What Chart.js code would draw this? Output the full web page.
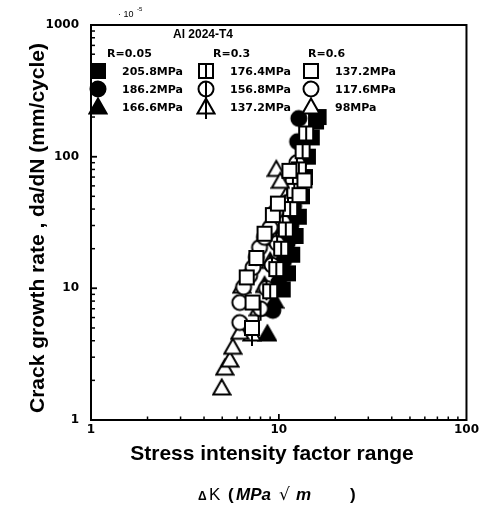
<!DOCTYPE html>
<html><head><meta charset="utf-8">
<script src="https://cdn.jsdelivr.net/npm/chart.js@4/dist/chart.umd.min.js"></script>
<style>html,body{margin:0;padding:0;background:#fff}#wrap{width:482px;height:508px;position:relative}</style>
</head><body><div id="wrap"><canvas id="c"></canvas></div>
<script>
// ---------- data ----------
const chartTitle = 'Al 2024-T4';
const ratioLabels = ['R=0.05', 'R=0.3', 'R=0.6'];
const seriesLabels = ['205.8MPa','186.2MPa','166.6MPa','176.4MPa','156.8MPa','137.2MPa','137.2MPa','117.6MPa','98MPa'];
const xTickValues = [1, 10, 100];
const yTickValues = [1, 10, 100, 1000];
const yUnitNote = '10';
const yUnitExp = '-5';

// R=0.05
const dk_205 = [10.5, 11.2, 11.8, 12.3, 12.8, 13.3, 13.8, 14.3, 15.0, 15.8, 16.3];
const da_205 = [9.8, 13, 18, 25, 35, 50, 70, 100, 140, 185, 200];
const dk_186 = [9.3, 10.0, 10.6, 11.1, 11.6, 12.0, 12.4, 12.8, 12.6, 12.8];
const da_186 = [6.8, 11, 16, 22, 30, 42, 60, 90, 130, 195];
const dk_166 = [8.7, 9.5, 10.3, 10.9, 11.5, 12.0, 12.4, 12.9];
const da_166 = [4.5, 8, 13, 19, 27, 38, 52, 70];
// R=0.3
const dk_176 = [9.0, 9.7, 10.3, 10.9, 11.5, 12.1, 12.8, 13.4, 14.0];
const da_176 = [9.5, 14, 20, 28, 40, 55, 80, 110, 150];
const dk_156 = [8.0, 8.6, 9.2, 9.8, 10.5, 11.2, 11.9, 12.5];
const da_156 = [7, 10, 15, 22, 32, 45, 65, 90];
const dk_137b = [7.2, 7.8, 8.4, 9.0, 9.7, 10.4, 11.1];
const da_137b = [4.5, 7, 10.5, 16, 24, 36, 52];
// R=0.6
const dk_137 = [7.2, 7.25, 6.75, 7.6, 8.4, 9.3, 9.9, 11.4, 12.9, 13.7];
const da_137 = [5.0, 7.8, 12.1, 17, 26, 36, 44, 78, 51, 66];
const dk_117 = [6.2, 6.2, 6.5, 7.0, 7.3, 7.6, 7.9, 8.4, 9.0, 9.6];
const da_117 = [5.5, 7.8, 10.2, 12.5, 14.4, 17.2, 20.4, 24.4, 29, 38];
const dk_98 = [4.97, 5.16, 5.49, 5.69, 6.2, 6.36, 9.7, 10.2];
const da_98 = [1.75, 2.48, 2.85, 3.57, 4.64, 10.4, 80, 65];

// ---------- markers ----------
function marker(shape, filled, bar) {
  const c = document.createElement('canvas');
  const W = 20, H = 28; c.width = W; c.height = H;
  const g = c.getContext('2d');
  const cx = 10, cy = 14;
  g.lineWidth = 2; g.strokeStyle = '#000'; g.fillStyle = filled ? '#000' : '#fff';
  g.beginPath();
  if (shape === 'square') g.rect(cx - 7, cy - 7, 14, 14);
  else if (shape === 'circle') g.arc(cx, cy, 7.5, 0, 2 * Math.PI);
  else { g.moveTo(cx, cy - 8.5); g.lineTo(cx + 8.5, cy + 6.5); g.lineTo(cx - 8.5, cy + 6.5); g.closePath(); }
  g.fill(); g.stroke();
  if (bar) {
    g.beginPath();
    g.moveTo(cx, cy - 7);
    g.lineTo(cx, shape === 'square' ? cy + 7 : cy + 12);
    g.stroke();
  }
  return c;
}
const markers = [
  marker('square', true, false), marker('circle', true, false), marker('triangle', true, false),
  marker('square', false, true), marker('circle', false, true), marker('triangle', false, true),
  marker('square', false, false), marker('circle', false, false), marker('triangle', false, false)
];
const xs = [dk_205, dk_186, dk_166, dk_176, dk_156, dk_137b, dk_137, dk_117, dk_98];
const ys = [da_205, da_186, da_166, da_176, da_156, da_137b, da_137, da_117, da_98];
const orders = [2, 2, 2, 1, 1, 1, 0, 0, 0];

const datasets = xs.map((arr, i) => ({
  label: seriesLabels[i],
  data: arr.map((v, j) => ({ x: v, y: ys[i][j] })),
  pointStyle: markers[i],
  pointRadius: 8,
  showLine: false,
  order: orders[i]
}));

const AR = 'Arial, "Liberation Sans", sans-serif';
const DJ = '"DejaVu Sans", sans-serif';

const decor = {
  id: 'decor',
  afterDatasetsDraw(chart) {
    const ctx = chart.ctx, a = chart.chartArea;
    const sx = chart.scales.x, sy = chart.scales.y;
    ctx.save();
    ctx.strokeStyle = '#000'; ctx.lineWidth = 2;
    ctx.strokeRect(a.left, a.top, a.right - a.left, a.bottom - a.top);
    // minor/major ticks inside
    ctx.lineWidth = 1.5;
    for (let d = 1; d < 100; d *= 10) {
      for (let m = 1; m <= 10; m++) {
        const v = d * m; if (v <= 1 || v >= 100) continue;
        const px = sx.getPixelForValue(v);
        const L = (m === 10 || m === 1) ? 6 : 3.5;
        ctx.beginPath(); ctx.moveTo(px, a.bottom); ctx.lineTo(px, a.bottom - L); ctx.stroke();
      }
    }
    for (let d = 1; d < 1000; d *= 10) {
      for (let m = 1; m <= 10; m++) {
        const v = d * m; if (v <= 1 || v >= 1000) continue;
        const py = sy.getPixelForValue(v);
        const L = (m === 10 || m === 1) ? 6 : 4;
        ctx.beginPath(); ctx.moveTo(a.left, py); ctx.lineTo(a.left + L, py); ctx.stroke();
      }
    }
    ctx.fillStyle = '#000';
    // legend
    ctx.textBaseline = 'alphabetic'; ctx.textAlign = 'center';
    ctx.font = 'bold 12px ' + AR;
    ctx.fillText(chartTitle, 203, 38);
    ctx.textAlign = 'left';
    ctx.font = 'bold 11px ' + DJ;
    const colMarkX = [98, 206, 311], colTextX = [122, 230, 335], rowY = [71, 89, 107];
    const ratioX = [107, 213, 308];
    ratioLabels.forEach((t, i) => ctx.fillText(t, ratioX[i], 57));
    for (let col = 0; col < 3; col++) {
      for (let row = 0; row < 3; row++) {
        const k = col * 3 + row;
        const mk = markers[k];
        ctx.drawImage(mk, colMarkX[col] - mk.width / 2, rowY[row] - mk.height / 2);
        ctx.fillText(seriesLabels[k], colTextX[col], rowY[row] + 4);
      }
    }
    // 10^-5 note
    ctx.font = '9px ' + AR;
    ctx.fillText('\u00b7 ' + yUnitNote, 118, 17);
    ctx.font = '6px ' + AR;
    ctx.fillText(yUnitExp, 137, 11);
    // axis titles
    ctx.font = 'bold 21px ' + AR;
    ctx.textAlign = 'center';
    ctx.fillText('Stress intensity factor range', 272, 460);
    ctx.save();
    ctx.translate(44, 228); ctx.rotate(-Math.PI / 2);
    ctx.fillText('Crack growth rate , da/dN (mm/cycle)', 0, 0);
    ctx.restore();
    ctx.textAlign = 'left';
    ctx.font = 'bold 12px ' + AR; ctx.fillText('\u0394', 198, 500);
    ctx.font = '17px ' + AR; ctx.fillText('K', 209, 500);
    ctx.font = 'bold 17px ' + AR; ctx.fillText('(', 228, 500);
    ctx.font = 'italic bold 17px ' + AR; ctx.fillText('MPa', 236, 500);
    ctx.font = '17px ' + DJ; ctx.fillText('\u221a', 279, 500);
    ctx.font = 'italic bold 17px ' + AR; ctx.fillText('m', 296, 500);
    ctx.font = 'bold 17px ' + AR; ctx.fillText(')', 350, 500);
    ctx.restore();
  }
};

new Chart(document.getElementById('c'), {
  type: 'scatter',
  data: { datasets },
  options: {
    responsive: true, maintainAspectRatio: false, animation: false,
    layout: { padding: { left: 0, right: 15, top: 25, bottom: 0 } },
    plugins: { legend: { display: false }, tooltip: { enabled: false } },
    scales: {
      x: {
        type: 'logarithmic', min: 1, max: 100,
        grid: { display: false, drawTicks: false },
        border: { display: true, color: '#000', width: 2 },
        afterBuildTicks: s => { s.ticks = xTickValues.map(v => ({ value: v })); },
        afterFit: s => { s.height = 88; },
        ticks: { autoSkip: false, maxRotation: 0, minRotation: 0, padding: 3, color: '#000',
          font: { family: DJ, weight: 'bold', size: 12 }, callback: v => String(v) }
      },
      y: {
        type: 'logarithmic', min: 1, max: 1000,
        grid: { display: false, drawTicks: false },
        border: { display: true, color: '#000', width: 2 },
        afterBuildTicks: s => { s.ticks = yTickValues.map(v => ({ value: v })); },
        afterFit: s => { s.width = 91; },
        ticks: { autoSkip: false, padding: 12, color: '#000',
          font: { family: DJ, weight: 'bold', size: 12 }, callback: v => String(v) }
      }
    }
  },
  plugins: [decor]
});
</script>
</body></html>
